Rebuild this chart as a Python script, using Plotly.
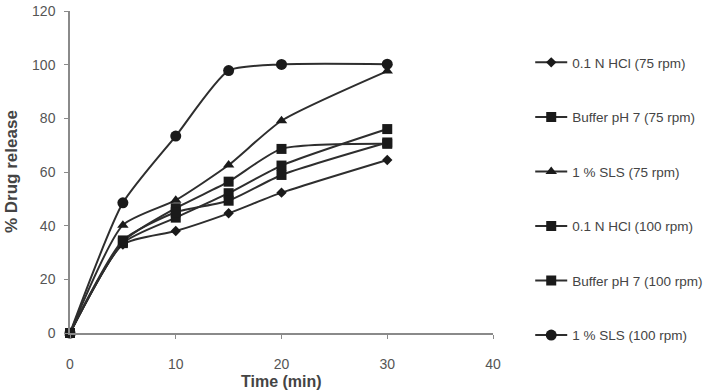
import plotly.graph_objects as go

time_min = [0, 5, 10, 15, 20, 30]
series_names = ["0.1 N HCl (75 rpm)", "Buffer pH 7 (75 rpm)", "1 % SLS (75 rpm)",
                "0.1 N HCl (100 rpm)", "Buffer pH 7 (100 rpm)", "1 % SLS (100 rpm)"]
hcl_75 = [0, 33, 38, 44.6, 52.3, 64.5]
buffer_75 = [0, 34, 46.5, 56.4, 68.6, 70.5]
sls_75 = [0, 40.2, 49.5, 62.6, 79.1, 97.6]
hcl_100 = [0, 33.5, 43, 52.1, 62.4, 76]
buffer_100 = [0, 34.5, 45, 49.3, 58.9, 71]
sls_100 = [0, 48.5, 73.4, 97.8, 100.1, 100.2]
series_values = [hcl_75, buffer_75, sls_75, hcl_100, buffer_100, sls_100]
symbols = ["diamond", "square", "triangle-up", "square", "square", "circle"]
sizes = [8, 10, 10, 10, 10, 11]

x_ticks = [0, 10, 20, 30, 40]
y_ticks = [0, 20, 40, 60, 80, 100, 120]

FONT = "Liberation Sans, Arial"

fig = go.Figure()
for i, (name, vals) in enumerate(zip(series_names, series_values)):
    fig.add_trace(go.Scatter(
        x=time_min, y=vals, name=name, mode="lines+markers",
        line=dict(color="#2e2e2e", width=2, shape="spline", smoothing=0.6),
        marker=dict(symbol=symbols[i], size=sizes[i], color="#1a1a1a"),
        legendgroup=f"g{i}", cliponaxis=False,
    ))

axis_common = dict(showgrid=False, zeroline=False, showline=True, linecolor="#8a8a8a",
                   linewidth=1.5, ticks="outside", ticklen=4, tickcolor="#8a8a8a",
                   tickfont=dict(family=FONT, size=14, color="#555555"))
fig.update_xaxes(range=[0, 40], tickvals=x_ticks, ticklabelstandoff=13, **axis_common)
fig.update_yaxes(range=[0, 120], tickvals=y_ticks, ticklabelstandoff=6, **axis_common)

fig.update_layout(
    width=712, height=390, margin=dict(l=70, r=219, t=11, b=57, autoexpand=False),
    paper_bgcolor="white", plot_bgcolor="white",
    showlegend=True,
    legend=dict(x=1.088, y=0.888, xanchor="left", yanchor="top", tracegroupgap=34,
                itemwidth=32,
                font=dict(family=FONT, size=13.5, color="#444444"),
                bgcolor="rgba(0,0,0,0)"),
    annotations=[
        dict(text="<b>% Drug release</b>", x=0, y=0.5, xref="paper", yref="paper",
             xshift=-59, textangle=-90, showarrow=False, xanchor="center", yanchor="middle",
             font=dict(family=FONT, size=17, color="#444444")),
        dict(text="<b>Time (min)</b>", x=0.5, y=0, xref="paper", yref="paper",
             yshift=-38, showarrow=False, xanchor="center", yanchor="top",
             font=dict(family=FONT, size=16, color="#444444")),
    ],
)

fig.write_html("out.html")
